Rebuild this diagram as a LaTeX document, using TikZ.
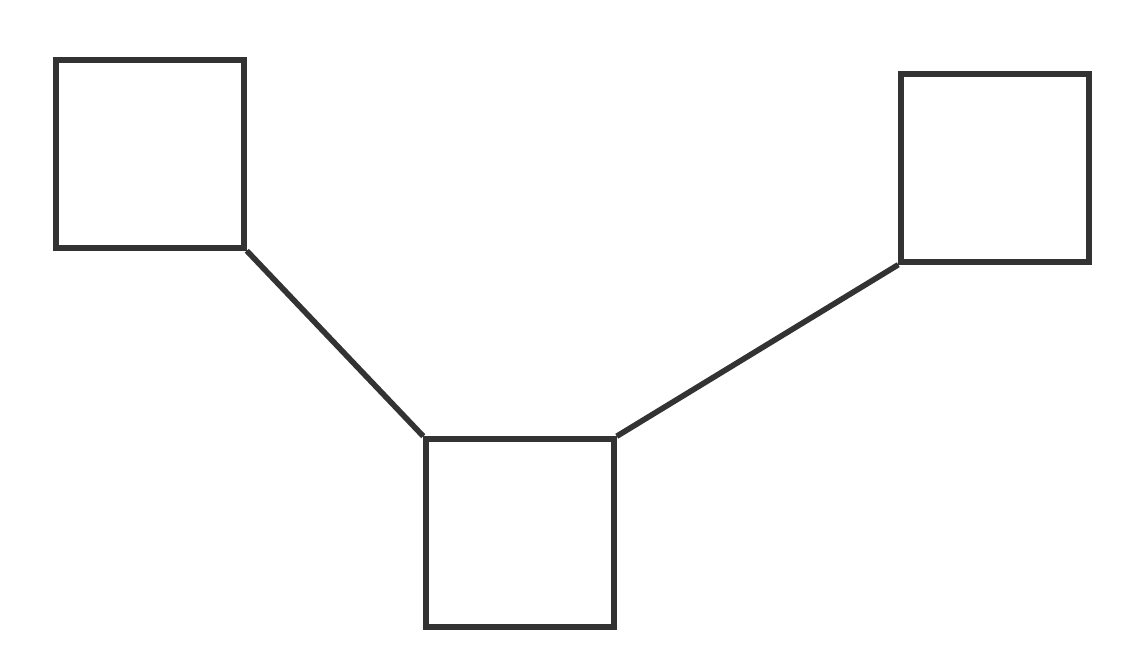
\documentclass[tikz,border=0pt]{standalone}
\usetikzlibrary{positioning}

\begin{document}
\begin{tikzpicture}[
    unit/.style={
      rectangle, draw=black!80, line width=3.4pt,
      minimum width=3.75cm, minimum height=3.75cm, inner sep=0pt,
    },
    link/.style={draw=black!80, line width=3.2pt},
]
\useasboundingbox (0,0) rectangle (22.44,13.32);

% Three squares
\node[unit] (left)   at (3.0, 10.24) {};
\node[unit] (right)  at (19.9, 9.96) {};
\node[unit] (bottom) at (10.4, 2.66) {};

% Links between corners
\draw[link] (left.south east) -- (bottom.north west);
\draw[link] (bottom.north east) -- (right.south west);
\end{tikzpicture}
\end{document}
